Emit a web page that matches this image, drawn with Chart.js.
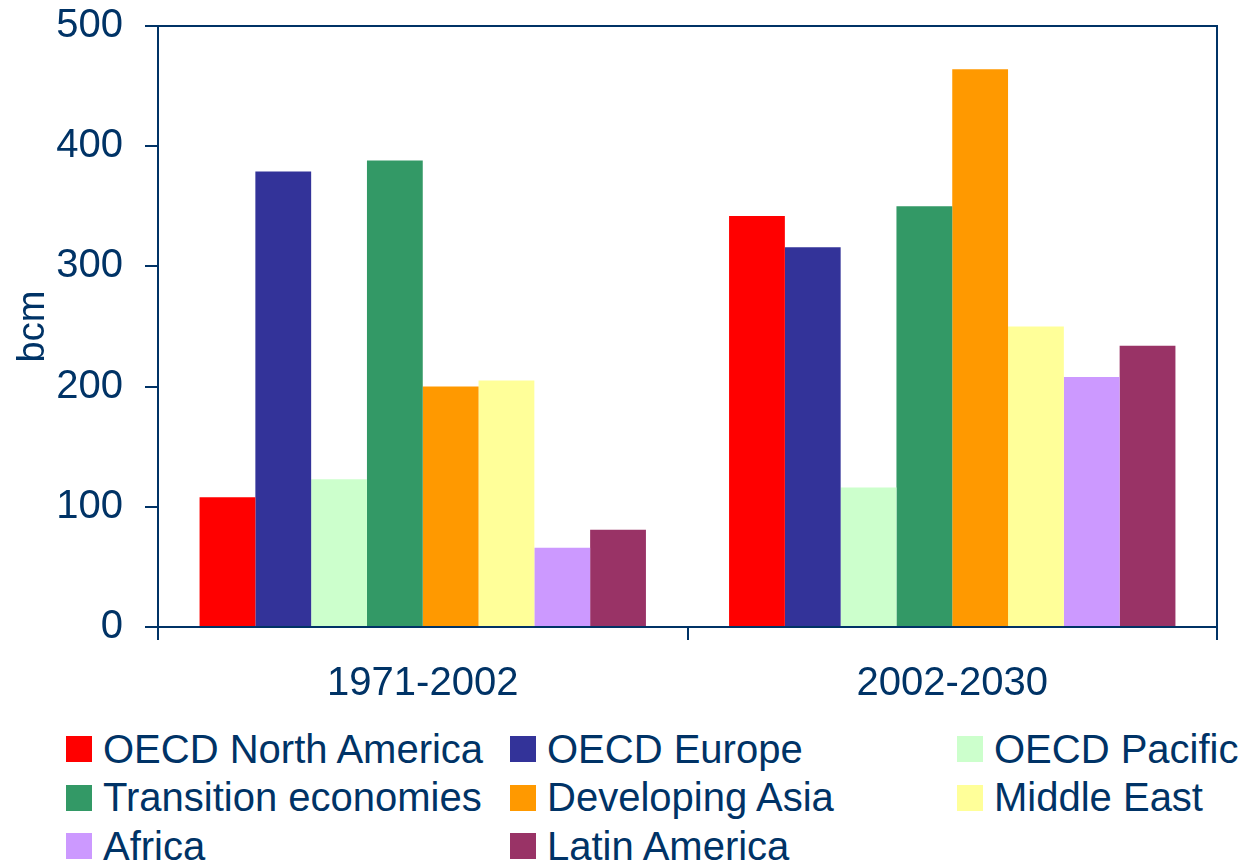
<!DOCTYPE html>
<html>
<head>
<meta charset="utf-8">
<script src="https://cdn.jsdelivr.net/npm/chart.js@4.4.0/dist/chart.umd.min.js"></script>
<style>
  body { margin: 0; background: #fff; font-family: "Liberation Sans", Arial, sans-serif; }
  #wrap { position: relative; width: 1249px; height: 725px; }
  #legend {
    display: grid;
    grid-template-columns: 444px 447px 292px;
    padding-left: 66px;
    color: #003366;
    font-size: 40px;
  }
  .item { display: flex; align-items: center; height: 48.5px; white-space: nowrap; }
  .box { width: 26px; height: 26px; margin-right: 11px; flex: none; }
</style>
</head>
<body>
<div id="wrap"><canvas id="chart"></canvas></div>
<div id="legend"></div>
<script>
const periods = ["1971-2002", "2002-2030"];
const regions = ["OECD North America", "OECD Europe", "OECD Pacific", "Transition economies",
  "Developing Asia", "Middle East", "Africa", "Latin America"];
const values = [
  [108, 342],
  [379, 316],
  [123, 116],
  [388, 350],
  [200, 464],
  [205, 250],
  [66, 208],
  [81, 234]
];
const colors = ["#FF0000", "#333399", "#CCFFCC", "#339966", "#FF9900", "#FFFF99", "#CC99FF", "#993366"];
const yTicks = [0, 100, 200, 300, 400, 500];

const navy = "#003366";

// frame on top and right of plot
const framePlugin = {
  id: "frame",
  afterDraw(chart) {
    const a = chart.chartArea;
    const c = chart.ctx;
    c.save();
    c.strokeStyle = navy;
    c.lineWidth = 2;
    c.beginPath();
    c.moveTo(a.left - 13, a.top);
    c.lineTo(a.right, a.top);
    c.lineTo(a.right, a.bottom);
    c.stroke();
    c.restore();
  }
};

const ctx = document.getElementById("chart").getContext("2d");
const chart = new Chart(ctx, {
  type: "bar",
  data: {
    labels: periods,
    datasets: regions.map((r, i) => ({
      label: r,
      data: values[i],
      backgroundColor: colors[i],
      borderWidth: 0,
      barPercentage: 1,
      categoryPercentage: 0.843
    }))
  },
  options: {
    responsive: true,
    maintainAspectRatio: false,
    animation: false,
    layout: { padding: { top: 26, right: 32, left: 0, bottom: 0 } },
    plugins: {
      legend: { display: false },
      tooltip: { enabled: false }
    },
    scales: {
      y: {
        min: 0,
        max: 500,
        afterFit(scale) {
          scale.width = 158;
          scale.paddingTop = 0;
          scale.paddingBottom = 0;
        },
        afterBuildTicks(scale) { scale.ticks = yTicks.map(v => ({ value: v })); },
        ticks: {
          color: navy,
          padding: 22,
          font: { family: "Liberation Sans", size: 40 }
        },
        grid: {
          drawOnChartArea: false,
          color: navy,
          lineWidth: 2,
          tickLength: 13
        },
        border: { color: navy, width: 2 },
        title: {
          display: true,
          text: "bcm",
          color: navy,
          padding: { top: 11, bottom: 0 },
          font: { family: "Liberation Sans", size: 38 }
        }
      },
      x: {
        afterFit(scale) { scale.height = 98; },
        ticks: {
          color: navy,
          padding: 20,
          font: { family: "Liberation Sans", size: 40 }
        },
        grid: {
          offset: true,
          drawOnChartArea: false,
          color: navy,
          lineWidth: 2,
          tickLength: 13
        },
        border: { color: navy, width: 2 }
      }
    }
  },
  plugins: [framePlugin]
});

// html legend, 3 columns
const legend = document.getElementById("legend");
regions.forEach((r, i) => {
  const item = document.createElement("div");
  item.className = "item";
  item.innerHTML = `<span class="box" style="background:${colors[i]}"></span><span>${r}</span>`;
  legend.appendChild(item);
});
</script>
</body>
</html>
